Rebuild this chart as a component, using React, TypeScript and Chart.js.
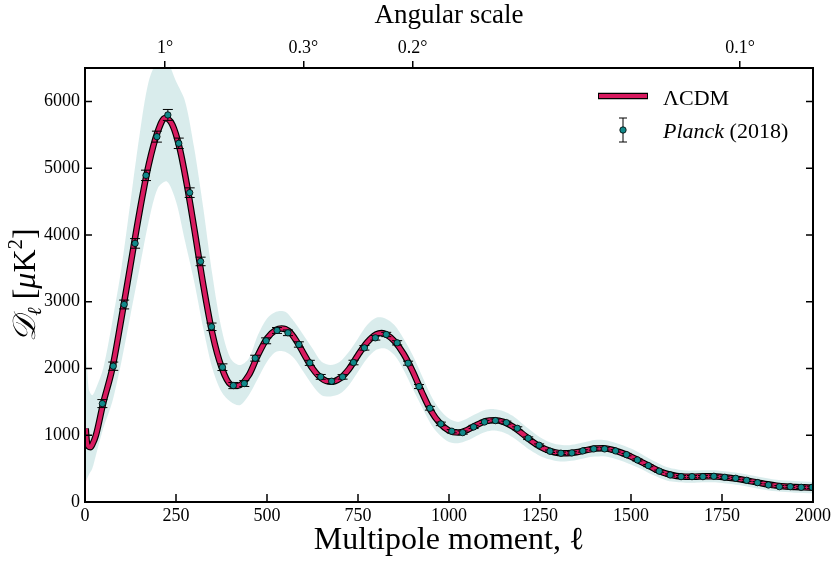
import React, { useEffect, useRef } from 'react';
import { Chart, registerables } from 'chart.js';

Chart.register(...registerables);

// ---- Binned Planck (2018) points ----
const binEll = [47.7, 77.6, 107.6, 137.6, 167.6, 197.6, 227.6, 257.6, 287.6, 317.6,
  347.6, 377.6, 407.6, 437.6, 467.6, 497.6, 527.6, 557.6, 587.6, 617.6,
  647.6, 677.6, 707.6, 737.6, 767.6, 797.6, 827.6, 857.6, 887.6, 917.6,
  947.6, 977.6, 1007.6, 1037.6, 1067.6, 1097.6, 1127.6, 1157.6, 1187.6, 1217.6,
  1247.6, 1277.6, 1307.6, 1337.6, 1367.6, 1397.6, 1427.6, 1457.6, 1487.6, 1517.6,
  1547.6, 1577.6, 1607.6, 1637.6, 1667.6, 1697.6, 1727.6, 1757.6, 1787.6, 1817.6,
  1847.6, 1877.6, 1907.6, 1937.6, 1967.6, 1997.6];
const binD = [1474, 2034, 2958, 3873, 4892, 5472, 5797, 5372, 4633, 3603,
  2624, 2019, 1744, 1774, 2154, 2414, 2569, 2534, 2359, 2084,
  1874, 1809, 1874, 2089, 2309, 2459, 2509, 2384, 2079, 1729,
  1404, 1170, 1060, 1039, 1124, 1199, 1219, 1189, 1104, 955,
  850, 760, 730, 735, 765, 795, 795, 765, 710, 630,
  545, 462, 405, 380, 380, 380, 385, 370, 355, 325,
  290, 255, 230, 230, 220, 220];
const binErr = [60, 62, 66, 72, 78, 82, 82, 78, 72, 64,
  56, 50, 46, 44, 44, 44, 44, 42, 40, 38,
  36, 34, 34, 34, 34, 34, 32, 32, 30, 30,
  28, 26, 24, 24, 24, 24, 24, 22, 22, 20,
  20, 18, 18, 18, 18, 18, 18, 18, 18, 16,
  16, 16, 16, 16, 16, 16, 16, 16, 16, 16,
  16, 16, 16, 16, 16, 16];

// ---- Lambda-CDM best-fit curve ----
const curveEll = [2, 5, 10, 15, 20, 30, 50, 75, 100, 125, 150, 175, 200, 220, 240, 260, 280, 300,
  325, 350, 375, 400, 420, 450, 475, 500, 525, 540, 560, 580, 600, 625, 650, 675, 700, 725,
  750, 775, 800, 815, 830, 850, 875, 900, 925, 950, 975, 1000, 1025, 1050, 1075, 1100, 1125,
  1150, 1175, 1200, 1225, 1250, 1275, 1300, 1325, 1350, 1375, 1400, 1425, 1450, 1475, 1500,
  1525, 1550, 1575, 1600, 1625, 1650, 1675, 1700, 1725, 1750, 1775, 1800, 1825, 1850, 1875,
  1900, 1925, 1950, 1975, 2000];
const curveD = [1100, 900, 830, 820, 860, 1000, 1480, 2000, 2750, 3550, 4350, 5050, 5550, 5750, 5650, 5300, 4750, 4100,
  3250, 2520, 2020, 1760, 1740, 1900, 2200, 2450, 2580, 2600, 2560, 2420, 2230, 2000, 1850, 1800, 1850, 1990,
  2200, 2390, 2510, 2530, 2500, 2410, 2220, 1960, 1650, 1370, 1180, 1070, 1040, 1080, 1150, 1210, 1225,
  1200, 1130, 1030, 920, 830, 770, 735, 730, 745, 775, 800, 805, 780, 735, 680,
  610, 540, 470, 420, 390, 380, 380, 385, 385, 375, 360, 340, 315, 290, 265,
  245, 232, 225, 220, 215];

// ---- Unbinned data cloud (envelope) ----
const bandEll = [2, 10, 20, 30, 50, 75, 100, 125, 150, 175, 200, 225, 250, 275, 300, 325, 350, 375,
  400, 425, 450, 475, 500, 525, 550, 575, 600, 625, 650, 675, 700, 725, 750, 775, 800, 825,
  850, 875, 900, 925, 950, 975, 1000, 1025, 1050, 1075, 1100, 1125, 1150, 1175, 1200, 1225,
  1250, 1275, 1300, 1325, 1350, 1375, 1400, 1425, 1450, 1475, 1500, 1525, 1550, 1575, 1600,
  1625, 1650, 1675, 1700, 1725, 1750, 1775, 1800, 1850, 1900, 1950, 2000];
const bandLo = [300, 400, 500, 700, 1100, 1500, 2100, 2800, 3500, 4200, 4700, 4800, 4500, 3900, 3300, 2600, 2000, 1650,
  1500, 1450, 1600, 1850, 2100, 2250, 2250, 2150, 1950, 1750, 1600, 1580, 1620, 1750, 1950, 2150, 2280, 2300,
  2200, 1980, 1700, 1430, 1170, 1000, 900, 880, 920, 990, 1050, 1070, 1040, 970, 870, 770,
  690, 640, 610, 610, 630, 660, 680, 685, 660, 615, 560, 500, 430, 370, 320,
  300, 290, 290, 295, 295, 285, 270, 250, 200, 160, 140, 130];
const bandHi = [2500, 1700, 1600, 1700, 2000, 2700, 3500, 4500, 5500, 6300, 6600, 6600, 6300, 6000, 5300, 4400, 3400, 2600,
  2150, 2050, 2150, 2500, 2750, 2850, 2850, 2700, 2500, 2300, 2100, 2050, 2100, 2250, 2450, 2650, 2760, 2750,
  2650, 2450, 2200, 1900, 1600, 1380, 1250, 1200, 1250, 1320, 1380, 1390, 1360, 1290, 1180, 1070,
  970, 900, 860, 850, 870, 900, 930, 930, 900, 855, 800, 730, 650, 580, 520,
  490, 470, 470, 475, 475, 465, 450, 430, 380, 335, 315, 300];

// ---- Axes ----
const xTickValues = [0, 250, 500, 750, 1000, 1250, 1500, 1750, 2000];
const yTickValues = [0, 1000, 2000, 3000, 4000, 5000, 6000];
const angularEll = [220, 600, 900, 1800];
const angularLabels = ['1°', '0.3°', '0.2°', '0.1°'];

const SERIF = "'Liberation Serif', 'DejaVu Serif', serif";
const PINK = '#D81B60';
const TEAL = '#11898a';
const BAND = 'rgba(80,170,170,0.22)';
const POINTS_IDX = 4;

const decorPlugin = {
  id: 'decor',
  beforeDatasetDraw(chart: any, args: any) {
    if (args.index !== POINTS_IDX) return;
    const { ctx, chartArea } = chart;
    const xs = chart.scales.x;
    const ys = chart.scales.y;
    ctx.save();
    ctx.beginPath();
    ctx.rect(chartArea.left, chartArea.top, chartArea.right - chartArea.left, chartArea.bottom - chartArea.top);
    ctx.clip();
    ctx.strokeStyle = '#000';
    ctx.lineWidth = 1;
    binEll.forEach((l, i) => {
      const px = xs.getPixelForValue(l);
      const t = ys.getPixelForValue(binD[i] + binErr[i]);
      const b = ys.getPixelForValue(binD[i] - binErr[i]);
      ctx.beginPath();
      ctx.moveTo(px, t); ctx.lineTo(px, b);
      ctx.moveTo(px - 5, t); ctx.lineTo(px + 5, t);
      ctx.moveTo(px - 5, b); ctx.lineTo(px + 5, b);
      ctx.stroke();
    });
    ctx.restore();
  },
  afterDraw(chart: any) {
    const { ctx, chartArea } = chart;
    const { left, right, top, bottom } = chartArea;
    const xs = chart.scales.x;
    const ys = chart.scales.y;
    ctx.save();
    // inward ticks
    ctx.strokeStyle = '#000';
    ctx.lineWidth = 1.5;
    ctx.beginPath();
    xTickValues.forEach((v) => {
      const px = xs.getPixelForValue(v);
      ctx.moveTo(px, bottom); ctx.lineTo(px, bottom - 8);
    });
    yTickValues.forEach((v) => {
      const py = ys.getPixelForValue(v);
      ctx.moveTo(left, py); ctx.lineTo(left + 7, py);
      ctx.moveTo(right, py); ctx.lineTo(right - 7, py);
    });
    ctx.stroke();
    // frame
    ctx.lineWidth = 2;
    ctx.strokeRect(left, top, right - left, bottom - top);

    // y title
    ctx.save();
    ctx.translate(35, (top + bottom) / 2);
    ctx.rotate(-Math.PI / 2);
    ctx.fillStyle = '#000';
    ctx.textBaseline = 'alphabetic';
    const parts = [
      { t: '𝒟', f: `italic 32px ${SERIF}`, dy: 0 },
      { t: 'ℓ', f: `italic 20px ${SERIF}`, dy: 6 },
      { t: ' [', f: `32px ${SERIF}`, dy: 0 },
      { t: 'μ', f: `italic 32px ${SERIF}`, dy: 0 },
      { t: 'K', f: `32px ${SERIF}`, dy: 0 },
      { t: '2', f: `21px ${SERIF}`, dy: -13 },
      { t: ']', f: `32px ${SERIF}`, dy: 0 },
    ];
    let total = 0;
    parts.forEach((p) => { ctx.font = p.f; total += ctx.measureText(p.t).width; });
    let cx = -total / 2;
    parts.forEach((p) => {
      ctx.font = p.f;
      ctx.fillText(p.t, cx, p.dy);
      cx += ctx.measureText(p.t).width;
    });
    ctx.restore();

    // legend
    ctx.lineCap = 'butt';
    ctx.beginPath();
    ctx.moveTo(598, 96); ctx.lineTo(648, 96);
    ctx.strokeStyle = '#000'; ctx.lineWidth = 6.5; ctx.stroke();
    ctx.beginPath();
    ctx.moveTo(599, 96); ctx.lineTo(647, 96);
    ctx.strokeStyle = PINK; ctx.lineWidth = 4.2; ctx.stroke();
    ctx.fillStyle = '#000';
    ctx.font = `22px ${SERIF}`;
    ctx.textBaseline = 'alphabetic';
    ctx.fillText('ΛCDM', 663, 105);
    // error bar icon
    ctx.strokeStyle = '#000'; ctx.lineWidth = 1;
    ctx.beginPath();
    ctx.moveTo(623, 118); ctx.lineTo(623, 142);
    ctx.moveTo(619, 118); ctx.lineTo(627, 118);
    ctx.moveTo(619, 142); ctx.lineTo(627, 142);
    ctx.stroke();
    ctx.beginPath();
    ctx.arc(623, 130, 3.2, 0, Math.PI * 2);
    ctx.fillStyle = TEAL; ctx.fill();
    ctx.lineWidth = 0.8; ctx.stroke();
    ctx.fillStyle = '#000';
    ctx.font = `italic 22px ${SERIF}`;
    ctx.fillText('Planck', 663, 138);
    const w = ctx.measureText('Planck').width;
    ctx.font = `22px ${SERIF}`;
    ctx.fillText(' (2018)', 663 + w, 138);
    ctx.restore();
  },
};

export default function App() {
  const ref = useRef<HTMLCanvasElement | null>(null);
  useEffect(() => {
    if (!ref.current) return;
    const pts = (xs: number[], ys: number[]) => xs.map((x, i) => ({ x, y: ys[i] }));
    const plain = (v: any) => String(v);
    const chart = new Chart(ref.current, {
      type: 'line',
      data: {
        datasets: [
          {
            data: pts(bandEll, bandHi), borderWidth: 0, pointRadius: 0, order: 5,
            backgroundColor: BAND, fill: '+1', tension: 0.3, clip: 0,
          },
          {
            data: pts(bandEll, bandLo), borderWidth: 0, pointRadius: 0, order: 4,
            backgroundColor: BAND, fill: false, tension: 0.3, clip: 0,
          },
          {
            data: pts(curveEll, curveD), borderColor: '#000', borderWidth: 6.5, pointRadius: 0, order: 3,
            cubicInterpolationMode: 'monotone', fill: false, clip: 0,
          },
          {
            data: pts(curveEll, curveD), borderColor: PINK, borderWidth: 4.2, pointRadius: 0, order: 2,
            cubicInterpolationMode: 'monotone', fill: false, clip: 0,
          },
          {
            data: pts(binEll, binD), showLine: false, pointRadius: 3.2, pointBorderWidth: 0.8, order: 1,
            pointBackgroundColor: TEAL, pointBorderColor: '#000', clip: 0,
          },
        ] as any,
      },
      options: {
        responsive: false,
        animation: false,
        events: [],
        layout: { padding: { left: 0, right: 26, top: 0, bottom: 0 } },
        plugins: { legend: { display: false }, tooltip: { enabled: false } },
        scales: {
          x: {
            type: 'linear', position: 'bottom', min: 0, max: 2000,
            afterBuildTicks: (s: any) => { s.ticks = xTickValues.map((v) => ({ value: v })); },
            afterFit: (s: any) => { s.height = 62; },
            grid: { display: false, drawTicks: false },
            border: { display: false },
            ticks: { color: '#000', font: { family: SERIF, size: 18 }, padding: 3, maxRotation: 0, autoSkip: false, callback: plain },
            title: {
              display: true, text: 'Multipole moment, ℓ', color: '#000',
              font: { family: SERIF, size: 32 }, padding: { top: 0, bottom: 4 },
            },
          },
          x2: {
            type: 'linear', position: 'top', min: 0, max: 2000,
            afterBuildTicks: (s: any) => { s.ticks = angularEll.map((v) => ({ value: v })); },
            afterFit: (s: any) => { s.height = 68; },
            grid: { display: true, drawOnChartArea: false, drawTicks: true, tickLength: 7, color: '#000', lineWidth: 1.5 },
            border: { display: false },
            ticks: {
              color: '#000', font: { family: SERIF, size: 18 }, padding: 2, maxRotation: 0, autoSkip: false,
              callback: (_v: any, i: number) => angularLabels[i],
            },
            title: {
              display: true, text: 'Angular scale', color: '#000',
              font: { family: SERIF, size: 27 }, padding: { top: 0, bottom: 0 },
            },
          },
          y: {
            type: 'linear', position: 'left', min: 0, max: 6500,
            afterBuildTicks: (s: any) => { s.ticks = yTickValues.map((v) => ({ value: v })); },
            afterFit: (s: any) => { s.width = 85; },
            grid: { display: false, drawTicks: false },
            border: { display: false },
            ticks: { color: '#000', font: { family: SERIF, size: 18 }, padding: 5, callback: plain },
          },
        },
      } as any,
      plugins: [decorPlugin],
    });
    return () => chart.destroy();
  }, []);
  return (
    <div style={{ position: 'fixed', left: 0, top: 0, width: 839, height: 564, background: '#fff' }}>
      <canvas ref={ref} width={839} height={564} style={{ display: 'block' }} />
    </div>
  );
}
